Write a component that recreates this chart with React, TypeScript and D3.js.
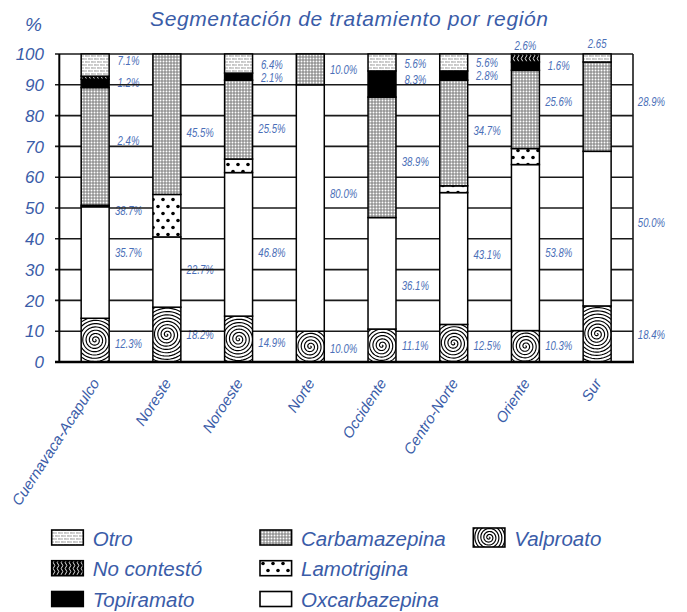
import React from 'react';
import * as d3 from 'd3';

const regions = ['Cuernavaca-Acapulco', 'Noreste', 'Noroeste', 'Norte', 'Occidente', 'Centro-Norte', 'Oriente', 'Sur'];
const seriesNames = ['Valproato', 'Oxcarbazepina', 'Lamotrigina', 'Carbamazepina', 'Topiramato', 'No contestó', 'Otro'];

const valproato = [14.2, 17.8, 14.9, 10.0, 10.7, 12.2, 10.2, 18.2];
const oxcarbazepina = [36.2, 22.8, 46.6, 80.0, 36.2, 42.8, 53.9, 50.2];
const lamotrigina = [0.5, 13.8, 4.4, 0, 0, 2.2, 5.2, 0];
const carbamazepina = [38.2, 45.6, 25.6, 10.0, 39.1, 34.3, 25.4, 29.0];
const topiramato = [2.7, 0, 2.3, 0, 8.5, 3.0, 2.7, 0];
const noContesto = [1.0, 0, 0, 0, 0, 0, 2.6, 0];
const otro = [7.2, 0, 6.2, 0, 5.5, 5.5, 0, 2.6];

const yTicks = [0, 10, 20, 30, 40, 50, 60, 70, 80, 90, 100];
const legendOrder = ['Otro', 'No contestó', 'Topiramato', 'Carbamazepina', 'Lamotrigina', 'Oxcarbazepina', 'Valproato'];

// value labels as printed in the chart: region, text, value level (%) where it sits, side
const labelRegion = [
  'Cuernavaca-Acapulco', 'Cuernavaca-Acapulco', 'Cuernavaca-Acapulco', 'Cuernavaca-Acapulco', 'Cuernavaca-Acapulco', 'Cuernavaca-Acapulco',
  'Noreste', 'Noreste', 'Noreste',
  'Noroeste', 'Noroeste', 'Noroeste', 'Noroeste', 'Noroeste',
  'Norte', 'Norte', 'Norte',
  'Occidente', 'Occidente', 'Occidente', 'Occidente', 'Occidente',
  'Centro-Norte', 'Centro-Norte', 'Centro-Norte', 'Centro-Norte', 'Centro-Norte',
  'Oriente', 'Oriente', 'Oriente', 'Oriente', 'Oriente',
  'Sur', 'Sur', 'Sur', 'Sur',
];
const labelText = [
  '7.1%', '1.2%', '2.4%', '38.7%', '35.7%', '12.3%',
  '45.5%', '22.7%', '18.2%',
  '6.4%', '2.1%', '25.5%', '46.8%', '14.9%',
  '10.0%', '80.0%', '10.0%',
  '5.6%', '8.3%', '38.9%', '36.1%', '11.1%',
  '5.6%', '2.8%', '34.7%', '43.1%', '12.5%',
  '2.6%', '1.6%', '25.6%', '53.8%', '10.3%',
  '2.65', '28.9%', '50.0%', '18.4%',
];
const labelLevel = [
  97.9, 90.9, 72.0, 49.1, 35.5, 6.1,
  74.7, 30.1, 9.1,
  96.8, 92.4, 75.8, 35.6, 6.4,
  95.0, 54.8, 4.4,
  96.9, 91.7, 65.3, 24.9, 5.3,
  97.4, 93.0, 75.2, 35.0, 5.5,
  102.8, 96.3, 84.7, 35.6, 5.3,
  103.4, 84.8, 45.3, 9.1,
];
const labelOnTop = [
  false, false, false, false, false, false,
  false, false, false,
  false, false, false, false, false,
  false, false, false,
  false, false, false, false, false,
  false, false, false, false, false,
  true, false, false, false, false,
  true, false, false, false,
];

const BLUE = '#3a5ca8';
const LBLUE = '#4b6fb8';
const FONT = '"Liberation Sans", Arial, sans-serif';

function spiralD(maxR: number, spacing: number) {
  const tMax = (maxR / spacing) * 2 * Math.PI + 2 * Math.PI;
  const ts = d3.range(0.3, tMax, 0.12);
  const gen = d3
    .lineRadial<number>()
    .angle((t) => t)
    .radius((t) => (spacing * t) / (2 * Math.PI));
  return gen(ts) || '';
}

function SpiralRect(props: { id: string; x: number; y: number; w: number; h: number; spacing: number; sw: number; bw: number }) {
  const { id, x, y, w, h, spacing, sw, bw } = props;
  const d = spiralD(Math.hypot(w / 2, h / 2) + 3, spacing);
  return (
    <g>
      <clipPath id={id}>
        <rect x={x} y={y} width={w} height={h} />
      </clipPath>
      <rect x={x} y={y} width={w} height={h} fill="#fff" />
      <g clipPath={`url(#${id})`}>
        <path d={d} transform={`translate(${x + w / 2},${y + h / 2})`} fill="none" stroke="#000" strokeWidth={sw} />
      </g>
      <rect x={x} y={y} width={w} height={h} fill="none" stroke="#000" strokeWidth={bw} />
    </g>
  );
}

export default function App() {
  const W = 687;
  const H = 612;
  const x = d3.scaleBand<string>().domain(regions).range([59.3, 633]).padding(0);
  const y = d3.scaleLinear().domain([0, 100]).range([362, 54]);
  const band = x.bandwidth();
  const barW = band * 0.39;
  const cx = (r: string) => (x(r) as number) + band / 2;

  const series: Record<string, number[]> = {
    Valproato: valproato,
    Oxcarbazepina: oxcarbazepina,
    Lamotrigina: lamotrigina,
    Carbamazepina: carbamazepina,
    Topiramato: topiramato,
    'No contestó': noContesto,
    Otro: otro,
  };
  const table = regions.map((r, i) => {
    const row: any = { region: r };
    seriesNames.forEach((s) => (row[s] = series[s][i]));
    return row;
  });
  const stacked = d3.stack<any>().keys(seriesNames)(table);

  const fills: Record<string, string> = {
    Valproato: '#ffffff',
    Oxcarbazepina: '#ffffff',
    Lamotrigina: 'url(#pat-lamo)',
    Carbamazepina: 'url(#pat-carba)',
    Topiramato: '#000000',
    'No contestó': 'url(#pat-noc)',
    Otro: 'url(#pat-otro)',
  };

  const labelShift: Record<string, number> = { Sur: 21 };

  const legendCols = [51.7, 260, 473.3];
  const legendRows = [530, 560.7, 591.5];
  const swW = 31.6;
  const swH = 15;

  return (
    <svg width={W} height={H} style={{ position: 'absolute', left: 0, top: 0, background: '#fff' }} fontFamily={FONT}>
      <defs>
        <pattern id="pat-otro" width={6} height={6} patternUnits="userSpaceOnUse">
          <rect width={6} height={6} fill="#d2d2d2" />
          <path d="M0,0.5H6M0,3.5H6M0.5,0V3M3.5,3V6" stroke="#ffffff" strokeWidth={1} />
          <rect x={1.5} y={1.3} width={1} height={1} fill="#a8a8a8" />
          <rect x={4.5} y={4.3} width={1} height={1} fill="#a8a8a8" />
        </pattern>
        <pattern id="pat-carba" width={3} height={3} patternUnits="userSpaceOnUse">
          <rect width={3} height={3} fill="#949494" />
          <circle cx={1.5} cy={1.5} r={0.95} fill="#ffffff" />
        </pattern>
        <pattern id="pat-lamo" width={10} height={14} patternUnits="userSpaceOnUse">
          <rect width={10} height={14} fill="#ffffff" />
          <circle cx={3} cy={3.5} r={1.8} fill="#000" />
          <circle cx={8} cy={10.5} r={1.8} fill="#000" />
        </pattern>
        <pattern id="pat-noc" width={4} height={6} patternUnits="userSpaceOnUse">
          <rect width={4} height={6} fill="#000" />
          <path d="M2,0Q3.6,1.5 2,3Q0.4,4.5 2,6" stroke="#ffffff" strokeWidth={0.9} fill="none" />
        </pattern>
      </defs>

      {/* value labels (under the grid lines) */}
      <g fill={LBLUE} fontStyle="italic" fontSize={13}>
        {labelText.map((t, i) => {
          const r = labelRegion[i];
          const lx = labelOnTop[i] ? cx(r) : cx(r) + band * 0.465 + (labelShift[r] || 0);
          const ly = y(labelLevel[i]);
          return (
            <text key={i} transform={`translate(${lx},${ly}) scale(0.74,1)`} textAnchor="middle" dy="0.36em">
              {t}
            </text>
          );
        })}
      </g>

      {/* grid lines and ticks */}
      <g stroke="#1a1a1a" strokeWidth={1.6}>
        {yTicks.map((t) => (
          <line key={t} x1={55} x2={633} y1={y(t)} y2={y(t)} />
        ))}
        <line x1={633} x2={633} y1={y(100)} y2={y(0)} />
      </g>

      {/* bars */}
      {stacked.map((layer) => (
        <g key={layer.key}>
          {layer.map((seg, i) => {
            const r = regions[i];
            if (seg[1] - seg[0] <= 0) return null;
            const h = y(seg[0]) - y(seg[1]);
            const bx = cx(r) - barW / 2;
            const by = y(seg[1]);
            if (layer.key === 'Valproato') {
              return <SpiralRect key={i} id={`clip-v-${i}`} x={bx} y={by} w={barW} h={h} spacing={3.3} sw={1.15} bw={1.5} />;
            }
            return (
              <rect key={i} x={bx} y={by} width={barW} height={h} fill={fills[layer.key]} stroke="#000" strokeWidth={1.5} />
            );
          })}
        </g>
      ))}

      {/* axes */}
      <line x1={59.3} x2={59.3} y1={y(100)} y2={y(0)} stroke="#000" strokeWidth={2} />
      <line x1={55} x2={634} y1={y(0)} y2={y(0)} stroke="#000" strokeWidth={2.4} />

      {/* y tick labels */}
      <g fill={BLUE} fontStyle="italic" fontSize={17}>
        {yTicks.map((t) => (
          <text key={t} x={44} y={y(t)} dy="0.36em" textAnchor="end">
            {t}
          </text>
        ))}
      </g>
      <text x={25} y={31} fill={BLUE} fontStyle="italic" fontSize={19}>
        %
      </text>

      {/* category labels */}
      <g fill={BLUE} fontStyle="italic" fontSize={15}>
        {regions.map((r) => (
          <text key={r} transform={`translate(${cx(r) + 5},${383}) rotate(-57)`} textAnchor="end">
            {r}
          </text>
        ))}
      </g>

      {/* title */}
      <text x={150} y={26} fill={BLUE} fontStyle="italic" fontSize={21} textLength={398} lengthAdjust="spacing">
        Segmentación de tratamiento por región
      </text>

      {/* legend */}
      <g>
        {legendOrder.map((name, k) => {
          const col = Math.floor(k / 3);
          const row = k % 3;
          const lx = legendCols[col];
          const tall = name === 'Valproato' ? 4 : 0;
          const ly = legendRows[row] - tall / 2;
          const hh = swH + tall;
          const swatch =
            name === 'Valproato' ? (
              <SpiralRect id="clip-leg-v" x={lx} y={ly} w={swW} h={hh} spacing={3.0} sw={1.2} bw={1.6} />
            ) : (
              <rect x={lx} y={ly} width={swW} height={hh} fill={fills[name]} stroke="#000" strokeWidth={1.6} />
            );
          return (
            <g key={name}>
              {swatch}
              <text x={lx + 41} y={legendRows[row] + 15.5} fill={BLUE} fontStyle="italic" fontSize={20.5}>
                {name}
              </text>
            </g>
          );
        })}
      </g>
    </svg>
  );
}
